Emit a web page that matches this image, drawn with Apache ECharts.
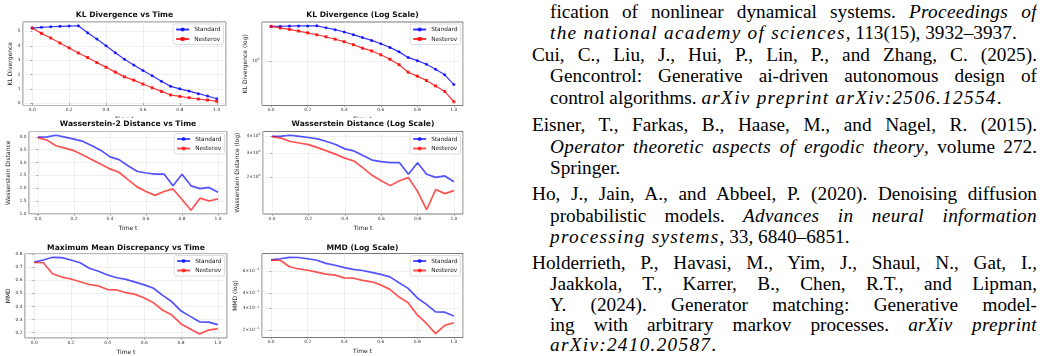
<!DOCTYPE html>
<html>
<head>
<meta charset="utf-8">
<script src="https://cdn.jsdelivr.net/npm/echarts@6/dist/echarts.min.js"></script>
<style>
  body{margin:0;width:1047px;height:356px;position:relative;background:#fff;overflow:hidden}
  .row{position:absolute;left:0;width:475px;overflow:hidden}
  #row1{top:0;height:118px}
  #row2{top:118px;height:118px}
  #row3{top:236px;height:120px}
  .ln{position:absolute;font-family:"Liberation Serif","DejaVu Serif",serif;font-size:18px;line-height:21px;height:21px;color:#000;white-space:nowrap;transform-origin:0 0;transform:scaleX(1.07)}
  .ln i{letter-spacing:1.2px}
  .j{text-align:justify;text-align-last:justify;white-space:normal;overflow:hidden}
  .j i{letter-spacing:0.3px}
</style>
</head>
<body>
<div id="row1" class="row"></div>
<div id="row2" class="row"></div>
<div id="row3" class="row"></div>
<div id="refs"></div>
<script>
// sample times
var times = [0,0.05,0.1,0.15,0.2,0.25,0.3,0.35,0.4,0.45,0.5,0.55,0.6,0.65,0.7,0.75,0.8,0.85,0.9,0.95,1.0];

// KL divergence
var klStandard = [5.23,5.28,5.32,5.35,5.37,5.39,4.9,4.47,4.0,3.52,3.06,2.67,2.28,1.91,1.54,1.18,1.01,0.85,0.67,0.51,0.32];
var klNesterov = [5.23,4.86,4.54,4.19,3.85,3.5,3.18,2.83,2.51,2.17,1.84,1.61,1.34,1.08,0.83,0.58,0.48,0.39,0.3,0.23,0.14];

// Wasserstein-2 distance
var w2Standard = [3.99,4.0,4.06,3.99,3.91,3.82,3.65,3.47,3.22,3.11,2.87,2.66,2.59,2.55,2.55,2.09,2.54,2.09,1.98,2.03,1.84];
var w2Nesterov = [3.97,3.87,3.65,3.56,3.46,3.29,3.11,2.93,2.75,2.62,2.33,2.05,1.87,1.72,1.87,1.97,1.56,1.14,1.61,1.5,1.58];

// MMD
var mmdStandard = [0.74,0.756,0.777,0.774,0.756,0.735,0.693,0.67,0.641,0.62,0.607,0.586,0.565,0.539,0.484,0.435,0.364,0.323,0.281,0.279,0.26];
var mmdNesterov = [0.737,0.735,0.651,0.625,0.61,0.589,0.568,0.557,0.529,0.526,0.505,0.492,0.464,0.427,0.37,0.333,0.265,0.226,0.187,0.218,0.229];

// tick labels on the log axes
var klLogTicks = [1];
var wLogTicks = [2,3,4];
var mmdLogTicks = [0.2,0.3,0.4,0.6];

var seriesNames = ['Standard','Nesterov'];

function pairs(vals){
  return times.map(function(t,i){ return [t, vals[i]]; });
}

var FONT = 'DejaVu Sans';

function buildRow(id, panels, titleTop, rowMarks){
  var opt = {
    animation:false,
    textStyle:{fontFamily:FONT},
    title:[], legend:[], grid:[], xAxis:[], yAxis:[], series:[]
  };
  panels.forEach(function(p,k){
    var b = p.box; // left, top, width, height
    opt.grid.push({left:b[0], top:b[1], width:b[2], height:b[3], show:true,
      borderColor:'#555', borderWidth:0.8, backgroundColor:'#fff',
      containLabel:false, outerBoundsMode:'none'});
    opt.title.push({text:p.title, left:b[0]+b[2]/2, top:titleTop, textAlign:'center', padding:0,
      textStyle:{fontSize:7.6, fontWeight:'bold', color:'#111', fontFamily:FONT}});
    opt.legend.push({data:seriesNames, orient:'vertical', right:475-(b[0]+b[2])+2.5, top:b[1]+2,
      itemWidth:13, itemHeight:5, itemGap:3.5, padding:[2.5,3,2.5,2],
      backgroundColor:'rgba(255,255,255,0.85)', borderColor:'#d0d0d0', borderWidth:0.7, borderRadius:2,
      textStyle:{fontSize:5.8, color:'#222', fontFamily:FONT}});
    opt.xAxis.push({type:'value', gridIndex:k, min:-0.05, max:1.05,
      name:'Time t', nameLocation:'middle', nameGap:p.xGap,
      nameTextStyle:{fontSize:6, color:'#222'},
      axisLine:{show:false},
      axisTick:{show:true, length:1.5, lineStyle:{color:'#555', width:0.6}},
      axisLabel:{fontSize:4.4, color:'#333', margin:2.5, showMinLabel:false, showMaxLabel:false,
        formatter:function(v){ return v.toFixed(1); }},
      splitLine:{show:true, lineStyle:{color:'#e6e6e6', width:0.6}}
    });
    var y = {gridIndex:k, min:p.min, max:p.max,
      name:p.yName, nameLocation:'middle', nameGap:p.yGap, nameRotate:90,
      nameTextStyle:{fontSize:6, color:'#222'},
      axisLine:{show:false},
      axisTick:{show:true, length:1.5, lineStyle:{color:'#555', width:0.6}},
      axisLabel:{fontSize:4.4, color:'#333', margin:2.5, showMinLabel:false, showMaxLabel:false,
        formatter:p.fmt, rich:{sup:{fontSize:3.2, padding:[0,0,3,0], color:'#333'}}},
      splitLine:{show:true, lineStyle:{color:'#e6e6e6', width:0.6}}
    };
    if (p.log){
      y.type = 'log'; y.logBase = 10;
      y.axisLabel.customValues = p.ticks;
      y.axisLabel.showMinLabel = true;
      y.axisLabel.showMaxLabel = true;
      y.axisTick.customValues = p.ticks;
    } else {
      y.type = 'value';
    }
    opt.yAxis.push(y);
    var cols = rowMarks ? ['rgba(0,0,255,0.8)','rgba(255,0,0,0.8)'] : ['rgba(0,0,255,0.68)','rgba(255,0,0,0.68)'];
    [p.std, p.nes].forEach(function(vals,s){
      opt.series.push({name:seriesNames[s], type:'line', xAxisIndex:k, yAxisIndex:k,
        data:pairs(vals),
        symbol: rowMarks ? (s===0 ? 'circle' : 'rect') : 'none',
        symbolSize: 3,
        showSymbol: rowMarks,
        itemStyle:{color:cols[s]},
        lineStyle:{color:cols[s], width: rowMarks ? 1.2 : 1.7},
        z: 2
      });
    });
  });
  var chart = echarts.init(document.getElementById(id));
  chart.setOption(opt);
  return chart;
}

buildRow('row1', [
  {title:'KL Divergence vs Time', yName:'KL Divergence', std:klStandard, nes:klNesterov,
   min:-0.15, max:5.65, box:[23,22,203,83.5], yGap:9, xGap:8,
   fmt:function(v){ return String(Math.round(v)); }},
  {title:'KL Divergence (Log Scale)', yName:'KL Divergence (log)', std:klStandard, nes:klNesterov,
   log:true, ticks:klLogTicks, min:0.117, max:6.47, box:[262,22,201,83.5], yGap:12, xGap:8,
   fmt:function(v){ return '10{sup|0}'; }}
], 11.5, true);

buildRow('row2', [
  {title:'Wasserstein-2 Distance vs Time', yName:'Wasserstein Distance', std:w2Standard, nes:w2Nesterov,
   min:0.994, max:4.206, box:[29,13.5,198,82.5], yGap:18, xGap:9,
   fmt:function(v){ return v.toFixed(1); }},
  {title:'Wasserstein Distance (Log Scale)', yName:'Wasserstein Distance (log)', std:w2Standard, nes:w2Nesterov,
   log:true, ticks:wLogTicks, min:1.06, max:4.33, box:[263,13.5,200,82.5], yGap:23, xGap:9,
   fmt:function(v){ return Math.round(v) + '×10{sup|0}'; }}
], 2.5, false);

buildRow('row3', [
  {title:'Maximum Mean Discrepancy vs Time', yName:'MMD', std:mmdStandard, nes:mmdNesterov,
   min:0.157, max:0.806, box:[25,17.5,202,84.5], yGap:11, xGap:10,
   fmt:function(v){ return v.toFixed(1); }},
  {title:'MMD (Log Scale)', yName:'MMD (log)', std:mmdStandard, nes:mmdNesterov,
   log:true, ticks:mmdLogTicks, min:0.174, max:0.834, box:[262,17.5,201,84], yGap:21, xGap:10,
   fmt:function(v){ return Math.round(v*10) + '×10{sup|−1}'; }}
], 8.5, false);

// bibliography column next to the figure
var refLines = [
  {y:12,  x:550, j:true,  h:'fication of nonlinear dynamical systems. <i>Proceedings of</i>'},
  {y:33,  x:550, j:false, h:'<i>the national academy of sciences</i>, 113(15), 3932–3937.'},
  {y:55,  x:532, j:true,  h:'Cui, C., Liu, J., Hui, P., Lin, P., and Zhang, C. (2025).'},
  {y:76,  x:550, j:true,  h:'Gencontrol: Generative ai-driven autonomous design of'},
  {y:98,  x:550, j:false, h:'control algorithms. <i>arXiv preprint arXiv:2506.12554</i>.'},
  {y:125, x:532, j:true,  h:'Eisner, T., Farkas, B., Haase, M., and Nagel, R. (2015).'},
  {y:147, x:550, j:true,  h:'<i>Operator theoretic aspects of ergodic theory</i>, volume 272.'},
  {y:168, x:550, j:false, h:'Springer.'},
  {y:194, x:532, j:true,  h:'Ho, J., Jain, A., and Abbeel, P. (2020). Denoising diffusion'},
  {y:216, x:550, j:true,  h:'probabilistic models. <i>Advances in neural information</i>'},
  {y:237, x:550, j:false, h:'<i>processing systems</i>, 33, 6840–6851.'},
  {y:263, x:532, j:true,  h:'Holderrieth, P., Havasi, M., Yim, J., Shaul, N., Gat, I.,'},
  {y:284, x:550, j:true,  h:'Jaakkola, T., Karrer, B., Chen, R.T., and Lipman,'},
  {y:305, x:550, j:true,  h:'Y. (2024). Generator matching: Generative model-'},
  {y:325, x:550, j:true,  h:'ing with arbitrary markov processes. <i>arXiv preprint</i>'},
  {y:345, x:550, j:false, h:'<i>arXiv:2410.20587</i>.'}
];
var refs = document.getElementById('refs');
refLines.forEach(function(r){
  var d = document.createElement('div');
  d.className = r.j ? 'ln j' : 'ln';
  d.style.left = r.x + 'px';
  d.style.top = (r.y - 10.5) + 'px';
  if (r.j) d.style.width = ((1037 - r.x) / 1.07) + 'px';
  d.innerHTML = r.h;
  refs.appendChild(d);
});
</script>
</body>
</html>
